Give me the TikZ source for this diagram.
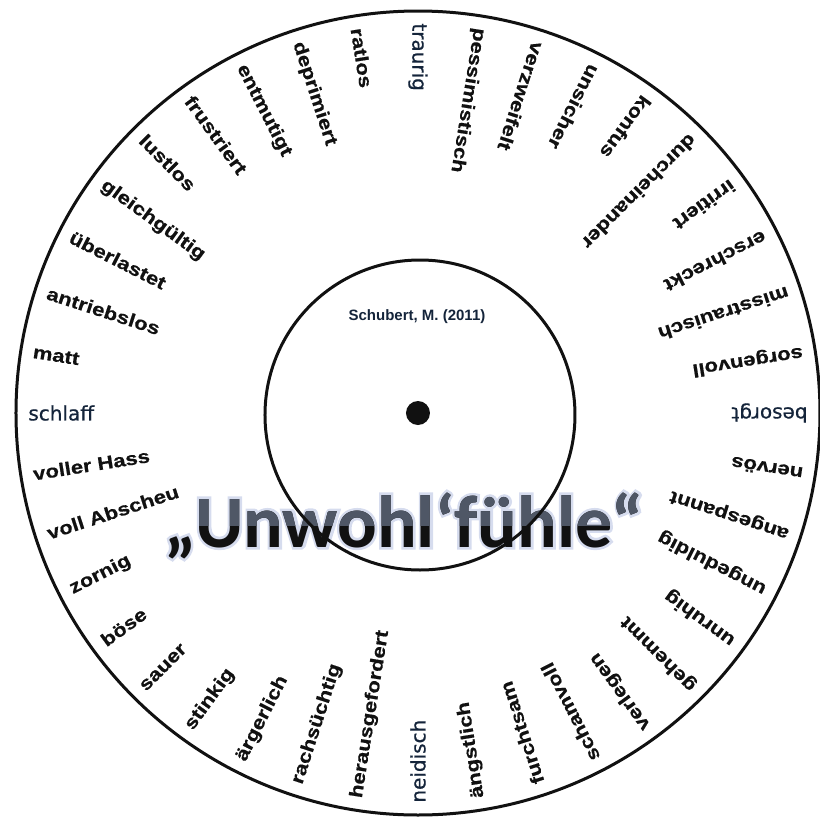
\documentclass[tikz,border=0pt]{standalone}
\usepackage{fontspec}
\setmainfont{Liberation Sans}
\newfontfamily\wordfont{Liberation Sans}[FakeStretch=1.2,FakeBold=0.6]
\newfontfamily\plainfont{DejaVu Sans}[FakeBold=0.6]
\newfontfamily\titlefont{Carlito}
\newfontfamily\glowfont{Carlito}[FakeBold=7]
\usetikzlibrary{calc}
\definecolor{ink}{HTML}{111111}
\definecolor{navy}{HTML}{14243A}
\definecolor{slate}{HTML}{4F5766}
\definecolor{glow}{HTML}{D6DCEE}
\tikzset{
  wordbold/.style={font=\wordfont\bfseries\fontsize{9.2}{11}\selectfont,text=ink,inner sep=0pt},
  wordplain/.style={font=\plainfont\fontsize{10}{12}\selectfont,text=navy,inner sep=0pt},
  titletext/.style={font=\titlefont\bfseries\fontsize{37}{40}\selectfont,inner sep=0pt,anchor=base},
  ring/.style={draw=ink,line width=1.5pt}
}

\begin{document}
\begin{tikzpicture}[x=0.5pt,y=0.5pt]
  \useasboundingbox (-418,-408) rectangle (402,413);
  \coordinate (hub) at (0,0);
  % title with soft glow and two-tone fill
  \coordinate (titlepos) at (-14,-134);
  \node[titletext,font=\glowfont\bfseries\fontsize{37}{40}\selectfont,text=glow] (halo) at (titlepos) {„Unwohl‘fühle“};
  \node[titletext,text=ink] (title) at (titlepos) {„Unwohl‘fühle“};
  \begin{scope}
    \clip (-420,-112) rectangle (420,0);
    \node[titletext,text=slate] at (titlepos) {„Unwohl‘fühle“};
  \end{scope}
  % rings and hub
  \draw[ring] (hub) circle[radius=402];
  \draw[ring] ([shift={(2,-2)}]hub) circle[radius=155];
  \fill[ink] (hub) circle[radius=12];
  \node[font=\bfseries\fontsize{7.5}{9}\selectfont,text=navy] (cite) at (-1,96) {Schubert, M. (2011)};
  % feelings, read from the rim inwards
  \foreach \w/\kind [count=\i from 0] in {
    traurig/wordplain, pessimistisch/wordbold, verzweifelt/wordbold,
    unsicher/wordbold, konfus/wordbold, durcheinander/wordbold,
    irritiert/wordbold, erschreckt/wordbold, misstrauisch/wordbold,
    sorgenvoll/wordbold, besorgt/wordplain, nervös/wordbold,
    angespannt/wordbold, ungeduldig/wordbold, unruhig/wordbold,
    gehemmt/wordbold, verlegen/wordbold, schamvoll/wordbold,
    furchtsam/wordbold, ängstlich/wordbold, neidisch/wordplain,
    herausgefordert/wordbold, rachsüchtig/wordbold, ärgerlich/wordbold,
    stinkig/wordbold, sauer/wordbold, böse/wordbold,
    zornig/wordbold, voll Abscheu/wordbold, voller Hass/wordbold,
    schlaff/wordplain, matt/wordbold, antriebslos/wordbold,
    überlastet/wordbold, gleichgültig/wordbold, lustlos/wordbold,
    frustriert/wordbold, entmutigt/wordbold, deprimiert/wordbold,
    ratlos/wordbold} {
    \pgfmathsetmacro\ang{90-9*\i}
    \node[\kind,anchor=west,rotate=\ang+180] (w\i) at (\ang:390) {\w};
  }
\end{tikzpicture}
\end{document}
